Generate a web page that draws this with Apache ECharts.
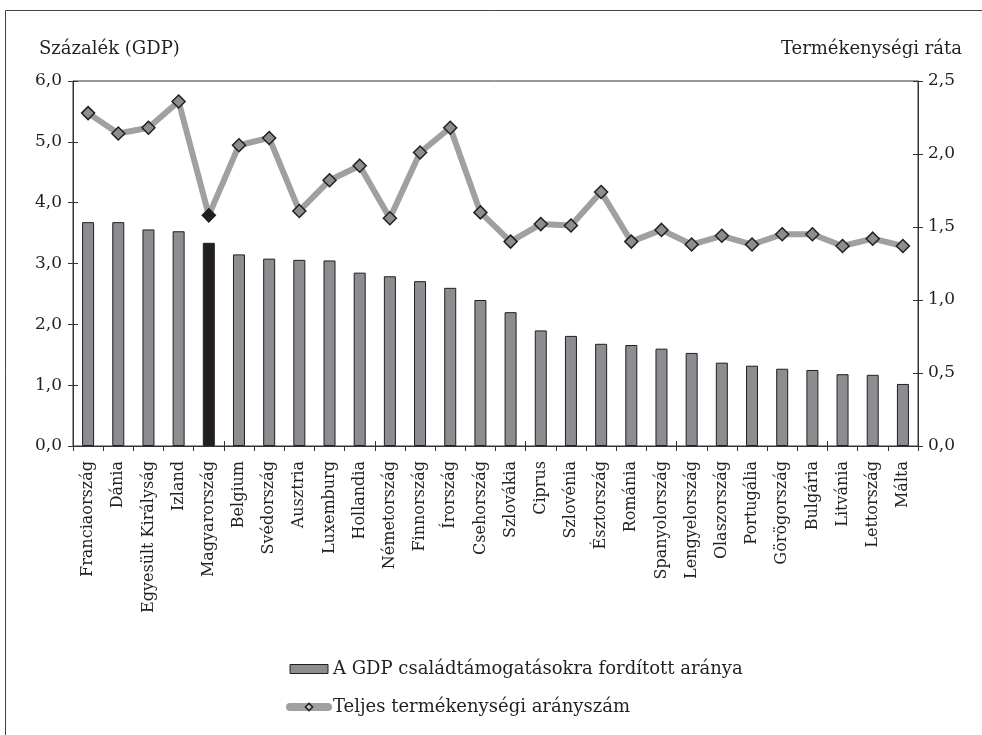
<!DOCTYPE html>
<html><head><meta charset="utf-8">
<script src="https://cdn.jsdelivr.net/npm/echarts@6/dist/echarts.min.js"></script>
<style>html,body{margin:0;padding:0;background:#fff}#c{width:982px;height:735px}</style>
</head><body><div id="c"></div>
<script>
const categories = ['Franciaország','Dánia','Egyesült Királyság','Izland','Magyarország','Belgium','Svédország','Ausztria','Luxemburg','Hollandia','Németország','Finnország','Írország','Csehország','Szlovákia','Ciprus','Szlovénia','Észtország','Románia','Spanyolország','Lengyelország','Olaszország','Portugália','Görögország','Bulgária','Litvánia','Lettország','Málta'];
const gdpShare = [3.68,3.68,3.56,3.53,3.34,3.15,3.08,3.06,3.05,2.85,2.79,2.71,2.60,2.40,2.20,1.90,1.81,1.68,1.66,1.60,1.53,1.37,1.32,1.27,1.25,1.18,1.17,1.02];
const fertility = [2.28,2.14,2.18,2.36,1.58,2.06,2.11,1.61,1.82,1.92,1.56,2.01,2.18,1.60,1.40,1.52,1.51,1.74,1.40,1.48,1.38,1.44,1.38,1.45,1.45,1.37,1.42,1.37];
const highlight = 'Magyarország';
const seriesNames = ['A GDP családtámogatásokra fordított aránya','Teljes termékenységi arányszám'];
const axisTitles = ['Százalék (GDP)','Termékenységi ráta'];

const F = '"DejaVu Serif",serif';
const INK = '#231f20';
const fmt = v => v.toFixed(1).replace('.', ',');
const tick = {show:true,length:5,lineStyle:{color:'#333'}};
const tickIn = {show:true,inside:true,length:5,lineStyle:{color:'#333'}};
const lbl = {formatter:fmt,fontSize:17,fontFamily:F,color:INK,margin:11};
const chart = echarts.init(document.getElementById('c'));
chart.setOption({
  animation:false,
  textStyle:{fontFamily:F,color:INK},
  grid:{left:73,right:64,top:81,bottom:289,show:true,borderColor:'#333',borderWidth:1,backgroundColor:'transparent'},
  legend:{orient:'vertical',left:281,top:655,itemGap:20,itemWidth:38,itemHeight:9,
    textStyle:{fontFamily:F,fontSize:18,color:INK},
    data:[{name:seriesNames[0],icon:'rect',itemStyle:{color:'#8c8d91',borderColor:INK,borderWidth:1}},
          {name:seriesNames[1],lineStyle:{width:8,color:'#a0a0a3',cap:'round'},itemStyle:{color:'#c8c8ca',borderColor:INK,borderWidth:1.5}}]},
  graphic:[
    {type:'line',shape:{x1:5.5,y1:10.5,x2:982,y2:10.5},style:{stroke:'#444',lineWidth:1}},
    {type:'line',shape:{x1:5.5,y1:10.5,x2:5.5,y2:735},style:{stroke:'#444',lineWidth:1}},
    {type:'text',left:39,top:40,style:{text:axisTitles[0],font:'18px '+F,fill:INK}},
    {type:'text',right:20,top:40,style:{text:axisTitles[1],font:'18px '+F,fill:INK}}
  ],
  xAxis:[
    {type:'category',data:categories,
     axisLine:{lineStyle:{color:'#333',width:1}},
     axisTick:tick,
     axisLabel:{rotate:90,interval:0,fontSize:16,fontFamily:F,color:INK,margin:15}},
    {type:'category',data:categories,position:'bottom',
     axisLine:{show:false},axisTick:tickIn,axisLabel:{show:false}}
  ],
  yAxis:[
    {type:'value',min:0,max:6,interval:1,position:'left',
     axisLine:{show:true,lineStyle:{color:'#333'}},axisTick:tick,
     splitLine:{show:false},axisLabel:lbl},
    {type:'value',min:0,max:2.5,interval:0.5,position:'right',
     axisLine:{show:true,lineStyle:{color:'#333'}},axisTick:tick,
     splitLine:{show:false},axisLabel:Object.assign({},lbl,{margin:10})},
    {type:'value',min:0,max:6,interval:1,position:'left',
     axisLine:{show:false},axisTick:tickIn,splitLine:{show:false},axisLabel:{show:false}},
    {type:'value',min:0,max:2.5,interval:0.5,position:'right',
     axisLine:{show:false},axisTick:tickIn,splitLine:{show:false},axisLabel:{show:false}}
  ],
  series:[
    {name:seriesNames[0],type:'bar',yAxisIndex:0,barWidth:12,
     itemStyle:{color:'#8c8d91',borderColor:INK,borderWidth:1},
     data:gdpShare.map((v,i)=>categories[i]===highlight?{value:v,itemStyle:{color:INK}}:v)},
    {name:seriesNames[1],type:'line',yAxisIndex:1,symbol:'diamond',symbolSize:13,
     lineStyle:{color:'#a0a0a3',width:6},
     itemStyle:{color:'#8c8d91',borderColor:INK,borderWidth:1.5},
     data:fertility.map((v,i)=>categories[i]===highlight?{value:v,itemStyle:{color:INK}}:v)}
  ]
});
</script></body></html>
